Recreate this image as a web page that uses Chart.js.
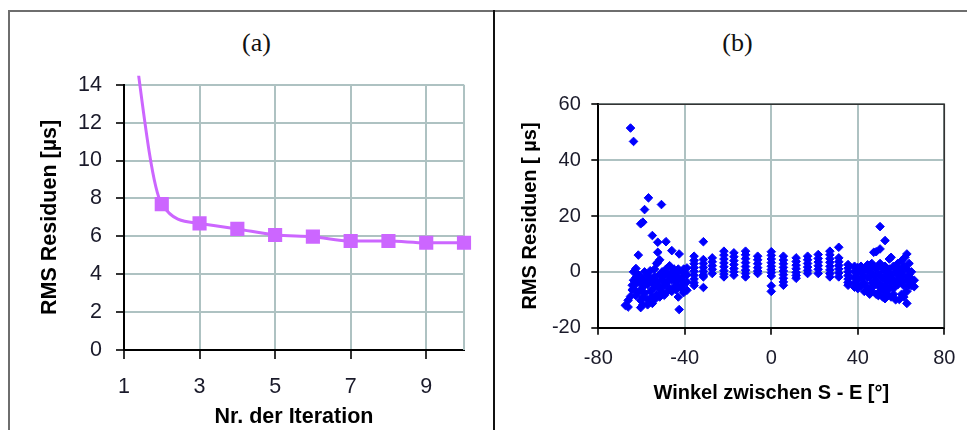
<!DOCTYPE html>
<html><head><meta charset="utf-8">
<script src="https://cdn.jsdelivr.net/npm/chart.js@4"></script>
<style>
html,body{margin:0;padding:0;background:#fff;}
body{width:967px;height:430px;position:relative;overflow:hidden;}
.frame{position:absolute;}
#topLine{left:8px;top:10px;width:959px;height:2px;background:#6e6e6e;}
#leftLine{left:8px;top:10px;width:2px;height:420px;background:#6e6e6e;}
#midLine{left:493px;top:10px;width:2px;height:420px;background:#111;}
.ptitle{position:absolute;font-family:"Liberation Serif","Times New Roman",serif;font-size:26px;line-height:26px;color:#111;transform:translateX(-50%);white-space:nowrap;}
canvas{position:absolute;}
</style></head>
<body>
<div class="frame" id="topLine"></div>
<div class="frame" id="leftLine"></div>
<div class="frame" id="midLine"></div>
<div class="ptitle" style="left:256.5px;top:30px">(a)</div>
<div class="ptitle" style="left:737.5px;top:30px">(b)</div>
<canvas id="chartA" width="483" height="418" style="left:10px;top:12px;width:483px;height:418px"></canvas>
<canvas id="chartB" width="471" height="418" style="left:496px;top:12px;width:471px;height:418px"></canvas>
<script>
// ---------- Panel (a) data ----------
const iterations = [1, 2, 3, 4, 5, 6, 7, 8, 9, 10];
const rmsResiduals = [20.2, 7.7, 6.68, 6.39, 6.07, 5.98, 5.75, 5.75, 5.66, 5.66];
const iterationTicks = [1, 3, 5, 7, 9];
const rmsTicks = [0, 2, 4, 6, 8, 10, 12, 14];

// ---------- Panel (b) data ----------
const angleTicks = [-80, -40, 0, 40, 80];
const residualTicks = [-20, 0, 20, 40, 60];

const leftAngles = [-67.5, -66.2, -65.1, -64.3, -63.7, -62.6, -61.5, -60.4, -59.4, -58.6, -57.2, -56.8, -56, -55, -54, -53, -52.5, -51.6, -50.8, -50.5, -49.5, -48.7, -48, -47, -46, -45, -44, -43, -42.6, -41.5, -40.5, -39];
const leftResiduals = [
  [-12], [-12.6, -10.2], [51.5, -8.8], [-6.5, -4.8], [46.7, -3, -6, 0],
  [-2, -4.2, -8.5, 1.2], [6, -1, -3.6, -7.2], [17.2, -12.8, -4, -6.6, -10.2],
  [17.8, -11.7, -2.4, -5.4, -9], [22.3, 0, -3.2, -7.6], [-1.2, -4.6, -9.8, -11.8], [26.5],
  [0.4, -2.6, -7, -10.8], [13, -4, -9, -11.3], [1, -1.6, -5.6, -10], [3, -3, -8],
  [10.6, 7, 3.4, -4.4], [4.3, -1, -6, -9], [24.1], [0, -3, -7.4], [-1.6, -5, -8.4],
  [10.8, 1, -4.4], [-0.6, -3.4, -7], [2.2, -1.6, -6], [7.6, 0, -3, -7], [1, -1.8, -5.4],
  [-0.6, -3.6, -6.4], [1, -2, -5, -9], [6.4, -13.5], [0, -3, -6], [1, -1.6, -4.4, -7.4],
  [1.4, -1, -3.6, -6.6]
];

const midAngles = [-35.7, -31.4, -27.3, -21.9, -17.3, -11.9, -6.3, 0, 5.6, 11.5, 16.8, 21.7, 27.1, 31.2, 35.5];
const midResiduals = [
  [5.6, 4.1, 2.9, 1.5, 0.2, -1.2, -2.6, -3.9, -4.9],
  [10.8, 4.4, 3, 1.6, 0.2, -1.1, -1.8, -5.6],
  [5, 3.6, 2.2, 0.9, -0.6],
  [7.4, 6, 4.6, 3.2, 1.8, 0.4, -0.8, -1.8],
  [6.8, 5.4, 4, 2.6, 1.2, 0, -1.2],
  [7.4, 6.1, 4.7, 3.3, 1.9, 0.6, -0.6, -1.8],
  [5.6, 4.3, 2.9, 1.5, 0.3, -0.6],
  [7.2, 5.9, 4.6, 3.3, 2, 0.8, -0.3, -1.5, -5, -7],
  [5.6, 4.2, 2.9, 1.6, 0.3, -1, -2.3, -3.6, -4.8],
  [5, 3.7, 2.4, 1.1, -0.2, -1.3, -2.3],
  [5.6, 4.3, 3, 1.7, 0.5, -0.6],
  [6.2, 4.8, 3.5, 2.2, 0.9, -0.6],
  [7.4, 6.1, 4.7, 3.4, 2, 0.7, -0.6, -1.8],
  [8.8, 5, 3.6, 2.3, 1, -0.4, -1.8],
  [2.6, 1.3, 0, -1.3, -2.6, -3.8, -4.8]
];

const rightAngles = [38.5, 40, 41.5, 43, 44.5, 45.5, 46.5, 47.4, 48.5, 49.5, 50.3, 51.5, 52.6, 53.5, 54.6, 55.4, 56.5, 57.5, 58.5, 59.2, 60.3, 61.3, 61.8, 62.7, 63.7, 64.8, 66.1];
const rightResiduals = [
  [2, 0, -2, -4, -5.5], [1.5, -0.5, -2.5, -4.5, -6], [2, 0, -2.4, -5], [1, -1.4, -4, -7],
  [2.5, 0.5, -2, -5.5], [-8, 1, -2], [3, -0.6, -4, -7], [7, 2, -1.4, -5],
  [7.2, 1, -3, -8], [2, -1, -5, -8.5], [16.2, 8.2, 3, -1, -4.4, -7], [1, -2.4, -6, -9],
  [11.2, -9.6, 2, -1.6, -4.6, -7], [0, -3.4, -8], [4.6, 1, -2.6, -6], [5.2, -1, -4, -9],
  [2, -2.6, -6, -8], [0, -4, -10], [3, -1, -4.6], [-9.9, 1, -2.4], [4, 0, -3.6, -8],
  [2, -1.4, -5, -9], [5.2], [6.4, -11.3, 1, -3, -7], [3, -1, -4.6], [0, -2.6, -5], [-5.3, -3]
];

// ---------- helpers ----------
const SANS = '"Liberation Sans", Arial, Helvetica, sans-serif';
const GRID = '#aec2c2';
function columnsToPoints(angles, residuals) {
  const pts = [];
  angles.forEach((a, i) => residuals[i].forEach(r => pts.push({x: a, y: r})));
  return pts;
}
const scatterPoints = [].concat(
  columnsToPoints(leftAngles, leftResiduals),
  columnsToPoints(midAngles, midResiduals),
  columnsToPoints(rightAngles, rightResiduals)
);

const frameA = {
  id: 'frameA',
  beforeDatasetsDraw(chart) {
    const {ctx, chartArea: c} = chart;
    ctx.save();
    ctx.strokeStyle = GRID; ctx.lineWidth = 2;
    ctx.beginPath(); ctx.moveTo(c.right, c.top); ctx.lineTo(c.right, c.bottom); ctx.stroke();
    ctx.restore();
  }
};
const frameB = {
  id: 'frameB',
  beforeDatasetsDraw(chart) {
    const {ctx, chartArea: c} = chart;
    ctx.save();
    ctx.strokeStyle = '#333'; ctx.lineWidth = 1.6;
    ctx.beginPath(); ctx.moveTo(c.left, c.top); ctx.lineTo(c.right, c.top); ctx.lineTo(c.right, c.bottom); ctx.stroke();
    ctx.restore();
  }
};

// ---------- Chart (a) ----------
new Chart(document.getElementById('chartA'), {
  type: 'line',
  data: {
    datasets: [{
      data: iterations.map((x, i) => ({x: x, y: rmsResiduals[i]})),
      borderColor: '#cc66ff',
      backgroundColor: '#cc66ff',
      borderWidth: 3,
      pointStyle: 'rect',
      pointRadius: iterations.map((x, i) => i === 0 ? 0 : 10),
      pointBorderWidth: 0,
      cubicInterpolationMode: 'monotone',
      fill: false,
      clip: {left: 0, top: 9, right: 12, bottom: 0}
    }]
  },
  options: {
    responsive: false, animation: false, events: [],
    layout: {padding: {left: 0, top: 72.7, right: 29, bottom: 0}},
    plugins: {legend: {display: false}, tooltip: {enabled: false}, title: {display: false}},
    scales: {
      x: {
        type: 'linear', min: 1, max: 10,
        afterBuildTicks: s => { s.ticks = iterationTicks.map(v => ({value: v})); },
        afterFit: s => { s.height = 80; },
        grid: {color: GRID, lineWidth: 2, tickColor: '#000', tickLength: 9, tickWidth: 1.6},
        border: {color: '#000', width: 2},
        ticks: {font: {family: SANS, size: 21.5}, color: '#1a1a2a', padding: 15.4, maxRotation: 0, autoSkip: false, callback: v => String(v)},
        title: {display: true, text: 'Nr. der Iteration', color: '#000', font: {family: SANS, size: 21.5, weight: 'bold'}, padding: {top: 0, bottom: 0}}
      },
      y: {
        type: 'linear', min: 0, max: 14,
        afterBuildTicks: s => { s.ticks = rmsTicks.map(v => ({value: v})); },
        afterFit: s => { s.width = 114; },
        grid: {color: GRID, lineWidth: 2, tickColor: '#000', tickLength: 8, tickWidth: 1.6},
        border: {color: '#000', width: 2},
        ticks: {font: {family: SANS, size: 21.5}, color: '#1a1a2a', padding: 14, autoSkip: false, callback: v => String(v)},
        title: {display: true, text: 'RMS Residuen [µs]', color: '#000', font: {family: SANS, size: 21.5, weight: 'bold'}, padding: {top: 27.1, bottom: 0}}
      }
    }
  },
  plugins: [frameA]
});

// ---------- Chart (b) ----------
new Chart(document.getElementById('chartB'), {
  type: 'scatter',
  data: {
    datasets: [{
      data: scatterPoints,
      pointStyle: 'rectRot',
      pointRadius: 4.3,
      pointBorderWidth: 1,
      backgroundColor: '#0000ff',
      borderColor: '#0000ff'
    }]
  },
  options: {
    responsive: false, animation: false, events: [],
    layout: {padding: {left: 0, top: 92.3, right: 20.3, bottom: 0}},
    plugins: {legend: {display: false}, tooltip: {enabled: false}, title: {display: false}},
    scales: {
      x: {
        type: 'linear', min: -80, max: 80,
        afterBuildTicks: s => { s.ticks = angleTicks.map(v => ({value: v})); },
        afterFit: s => { s.height = 102.3; },
        grid: {color: GRID, lineWidth: 2, tickColor: '#000', tickLength: 7, tickWidth: 1.6},
        border: {color: '#000', width: 2},
        ticks: {font: {family: SANS, size: 20}, color: '#1a1a2a', padding: 11.6, maxRotation: 0, autoSkip: false, callback: v => String(v)},
        title: {display: true, text: 'Winkel zwischen S - E [°]', color: '#000', font: {family: SANS, size: 20, weight: 'bold'}, padding: {top: 0, bottom: 24.7}}
      },
      y: {
        type: 'linear', min: -20, max: 60,
        afterBuildTicks: s => { s.ticks = residualTicks.map(v => ({value: v})); },
        afterFit: s => { s.width = 102.3; },
        grid: {color: GRID, lineWidth: 2, tickColor: '#000', tickLength: 7, tickWidth: 1.6},
        border: {color: '#000', width: 2},
        ticks: {font: {family: SANS, size: 20}, color: '#1a1a2a', padding: 10.5, autoSkip: false, callback: v => String(v)},
        title: {display: true, text: 'RMS Residuen [ µs]', color: '#000', font: {family: SANS, size: 20, weight: 'bold'}, padding: {top: 22.7, bottom: 0}}
      }
    }
  },
  plugins: [frameB]
});
</script>
</body></html>
